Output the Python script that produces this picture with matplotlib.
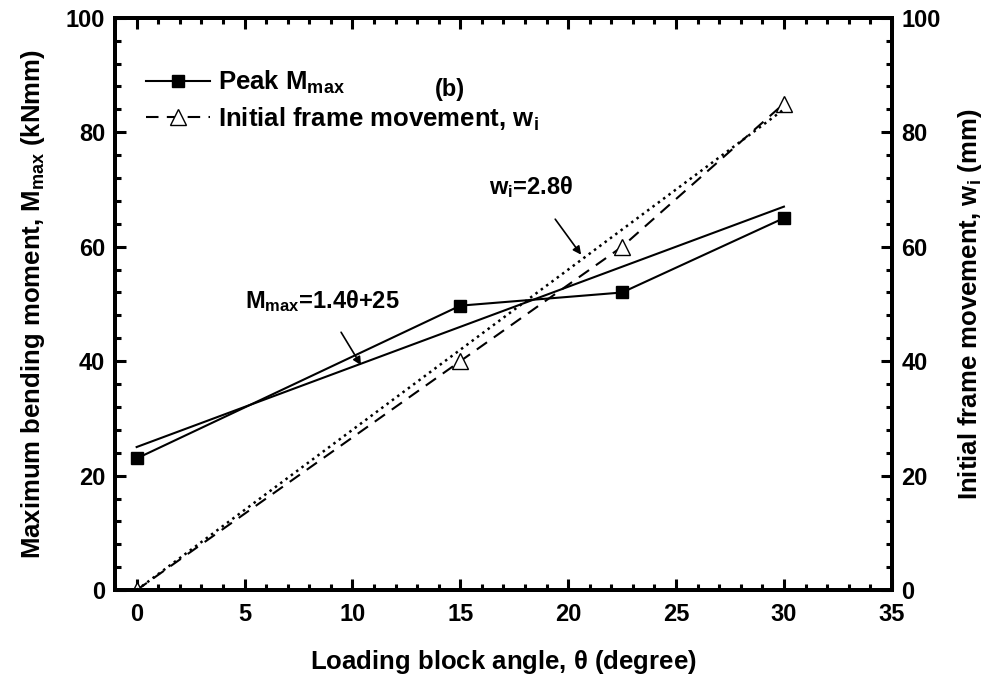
import matplotlib.pyplot as plt
from matplotlib.ticker import MultipleLocator

plt.rcParams['font.family'] = 'Liberation Sans'
plt.rcParams['font.weight'] = 'bold'
plt.rcParams['mathtext.fontset'] = 'custom'
plt.rcParams['mathtext.rm'] = 'Liberation Sans:bold'
plt.rcParams['mathtext.bf'] = 'Liberation Sans:bold'
plt.rcParams['mathtext.it'] = 'Liberation Sans:bold'
plt.rcParams['mathtext.default'] = 'bf'

# --- data ---
theta = [0, 15, 22.5, 30]
m_max = [23, 49.7, 52, 65]
w_i = [0, 40, 60, 85]

fit_theta = [0, 30]
fit_m = [25, 67]      # Mmax = 1.4θ + 25
fit_w = [0, 84]       # wi = 2.8θ

fig, ax = plt.subplots(figsize=(9.92, 6.83), dpi=100)
fig.subplots_adjust(left=0.116, right=0.899, bottom=0.136, top=0.974)
ax2 = ax.twinx()

ax.plot(theta, m_max, '-s', color='black', lw=1.5, ms=9, label=r'Peak M$_{max}$', zorder=5)
ax.plot(fit_theta, fit_m, '-', color='black', lw=1.5)
ax2.plot(theta, w_i, '--^', color='black', lw=1.5, ms=11, mfc='white', dashes=(6, 4),
         label=r'Initial frame movement, w$_i$')
ax2.plot(fit_theta, fit_w, ':', color='black', lw=1.8)

for a in (ax, ax2):
    a.set_xlim(-1, 35)
    a.set_ylim(0, 100)
    a.yaxis.set_major_locator(MultipleLocator(20))
    a.yaxis.set_minor_locator(MultipleLocator(4))
    for s in a.spines.values():
        s.set_linewidth(2.8)
    a.tick_params(which='major', direction='in', length=8, width=2.2, labelsize=17, pad=7)
    a.tick_params(which='minor', direction='in', length=4, width=2.2)

ax.xaxis.set_major_locator(MultipleLocator(5))
ax.xaxis.set_minor_locator(MultipleLocator(1))
ax.tick_params(which='both', top=True, right=False)
ax.tick_params(axis='x', which='major', pad=9)

ax.set_xlabel(r'Loading block angle, $\theta$ (degree)', fontsize=18.5, fontweight='bold', labelpad=16)
ax.set_ylabel(r'Maximum bending moment, M$_{max}$ (kNmm)', fontsize=18.5, fontweight='bold', labelpad=14)
ax2.set_ylabel(r'Initial frame movement, w$_i$ (mm)', fontsize=18.5, fontweight='bold', labelpad=11)

ax.text(14.5, 87.5, '(b)', fontsize=17, fontweight='bold', ha='center', va='center')

ax.annotate(r'M$_{max}$=1.4$\theta$+25', xy=(10.4, 39.3), xytext=(8.6, 50.5),
            fontsize=17, ha='center', va='center',
            arrowprops=dict(arrowstyle='-|>', color='black', lw=1.2, shrinkA=13, shrinkB=0,
                            mutation_scale=12))
ax.annotate(r'w$_i$=2.8$\theta$', xy=(20.6, 58.6), xytext=(18.3, 70.5),
            fontsize=17, ha='center', va='center',
            arrowprops=dict(arrowstyle='-|>', color='black', lw=1.2, shrinkA=15, shrinkB=0,
                            mutation_scale=12))

h1, l1 = ax.get_legend_handles_labels()
h2, l2 = ax2.get_legend_handles_labels()
leg = ax2.legend(h1 + h2, l1 + l2, loc='upper left', bbox_to_anchor=(0.02, 0.937),
                 frameon=False, fontsize=18.5, handlelength=2.5, handletextpad=0.3,
                 labelspacing=0.35, borderaxespad=0.2)

fig.savefig('out.png', dpi=100)
